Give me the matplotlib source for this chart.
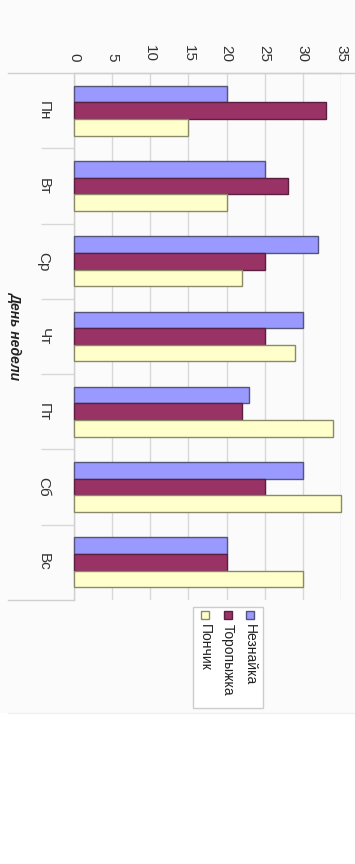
import matplotlib
matplotlib.use("Agg")
import matplotlib.pyplot as plt
from matplotlib.patches import Rectangle
from matplotlib.lines import Line2D
import numpy as np

plt.rcParams["font.family"] = ["Liberation Sans", "DejaVu Sans"]

days = ["Пн", "Вт", "Ср", "Чт", "Пт", "Сб", "Вс"]
series_names = ["Незнайка", "Торопыжка", "Пончик"]
neznayka = [20, 25, 32, 30, 23, 30, 20]
toropyzhka = [33, 28, 25, 25, 22, 25, 20]
ponchik = [15, 20, 22, 29, 34, 35, 30]
value_ticks = [0, 5, 10, 15, 20, 25, 30, 35]
axis_title = "День недели"

colors = ["#9999FF", "#993366", "#FFFFCC"]
edges = ["#55557a", "#5a2040", "#8a8a6a"]

W, H = 355, 864
fig = plt.figure(figsize=(W / 100, H / 100), dpi=100)
fig.patch.set_facecolor("white")

def fx(px):
    return px / W

def fy(py):
    return 1 - py / H

# light background panel
fig.patches.append(Rectangle((0, fy(713)), 1, 1 - fy(713), transform=fig.transFigure,
                             facecolor="#fbfbfb", edgecolor="none", zorder=-5))
fig.lines.append(Line2D([fx(8), fx(355)], [fy(713), fy(713)], transform=fig.transFigure,
                        color="#f0f0f0", lw=1, zorder=-4))

left, right, top, bottom = 74, 341, 73, 600
ax = fig.add_axes([fx(left), fy(bottom), fx(right) - fx(left), fy(top) - fy(bottom)])
ax.set_facecolor("none")
ax.set_zorder(1)

y = np.arange(len(days))
h = 0.221
for i, (vals, c, e) in enumerate(zip([neznayka, toropyzhka, ponchik], colors, edges)):
    ax.barh(y + (i - 1) * h, vals, height=h, color=c, edgecolor=e, linewidth=1.0,
            zorder=3, clip_on=False)

ax.set_xlim(0, 35)
ax.set_ylim(len(days) - 0.5, -0.5)

ax.xaxis.tick_top()
ax.set_xticks(value_ticks)
ax.set_xticklabels([str(v) for v in value_ticks], rotation=270, fontsize=11, color="#333333")
ax.tick_params(axis="x", length=0, pad=8)
ax.grid(axis="x", color="#d8d8d8", lw=1, zorder=1)

ax.set_yticks(y)
ax.set_yticklabels(days, rotation=270, fontsize=11, color="#333333", va="center", ha="right")
ax.tick_params(axis="y", which="major", length=0, pad=17)
ax.set_yticks(np.arange(0.5, len(days) - 0.5, 1), minor=True)
ax.tick_params(axis="y", which="minor", length=24, width=1, color="#d8d8d8", direction="out")

for s in ["right", "bottom"]:
    ax.spines[s].set_visible(False)
for s in ["left", "top"]:
    ax.spines[s].set_color("#d0d0d0")
    ax.spines[s].set_linewidth(1)

# extended boundary lines
fig.lines.append(Line2D([fx(8), fx(355)], [fy(top), fy(top)], transform=fig.transFigure,
                        color="#d0d0d0", lw=1, zorder=2))
fig.lines.append(Line2D([fx(8), fx(left)], [fy(bottom), fy(bottom)], transform=fig.transFigure,
                        color="#d0d0d0", lw=1, zorder=2))

fig.text(fx(15), fy(336), axis_title, rotation=270, fontsize=10, fontweight="bold",
         style="italic", color="#222222", ha="center", va="center")

# legend (rotated)
fig.patches.append(Rectangle((fx(193), fy(708)), fx(263) - fx(193), fy(607) - fy(708),
                             transform=fig.transFigure, facecolor="white",
                             edgecolor="#cccccc", lw=1, zorder=3))
leg_x = [250, 228, 205]
for name, c, e, x in zip(series_names, colors, edges, leg_x):
    fig.patches.append(Rectangle((fx(x - 4), fy(619)), fx(8), 8 / H,
                                 transform=fig.transFigure, facecolor=c,
                                 edgecolor=e, lw=1, zorder=4))
    fig.text(fx(x), fy(624), name, rotation=270, fontsize=10, color="#222222",
             ha="center", va="top", zorder=5)

fig.savefig("out.png", dpi=100, facecolor=fig.get_facecolor())
